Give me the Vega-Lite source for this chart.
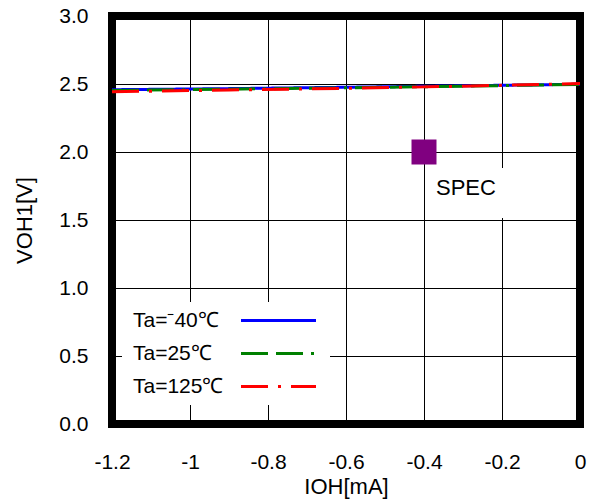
{
  "$schema": "https://vega.github.io/schema/vega-lite/v6.json",
  "width": 468,
  "height": 408,
  "autosize": {"type": "none"},
  "padding": {"left": 112, "top": 16, "right": 12, "bottom": 80},
  "background": "white",
  "config": {
    "view": {"stroke": "black", "strokeWidth": 8},
    "font": "Liberation Sans",
    "axis": {
      "grid": true,
      "gridColor": "#000000",
      "gridWidth": 1,
      "gridOpacity": 1,
      "domain": false,
      "ticks": false,
      "labelFlush": false,
      "labelFont": "Liberation Sans",
      "labelFontSize": 21,
      "labelColor": "#000000",
      "titleFont": "Liberation Sans",
      "titleFontSize": 22,
      "titleFontWeight": "normal",
      "titleColor": "#000000"
    },
    "legend": {
      "title": null,
      "orient": "none",
      "fillColor": "white",
      "padding": 8,
      "symbolType": "M-5,0H5",
      "symbolSize": 225,
      "symbolStrokeWidth": 3,
      "labelFont": "Liberation Sans",
      "labelFontSize": 21,
      "labelColor": "#000000",
      "labelOffset": -156,
      "symbolOffset": 138,
      "rowPadding": 11
    }
  },
  "datasets": {
    "curves": [
      {"ioh": -1.2, "voh": 2.458, "series": "Ta=⁻40℃"},
      {"ioh": -0.9, "voh": 2.466, "series": "Ta=⁻40℃"},
      {"ioh": -0.6, "voh": 2.476, "series": "Ta=⁻40℃"},
      {"ioh": -0.3, "voh": 2.487, "series": "Ta=⁻40℃"},
      {"ioh": 0.0, "voh": 2.498, "series": "Ta=⁻40℃"},
      {"ioh": -1.2, "voh": 2.452, "series": "Ta=25℃"},
      {"ioh": -0.9, "voh": 2.462, "series": "Ta=25℃"},
      {"ioh": -0.6, "voh": 2.472, "series": "Ta=25℃"},
      {"ioh": -0.3, "voh": 2.484, "series": "Ta=25℃"},
      {"ioh": 0.0, "voh": 2.497, "series": "Ta=25℃"},
      {"ioh": -1.2, "voh": 2.443, "series": "Ta=125℃"},
      {"ioh": -0.9, "voh": 2.456, "series": "Ta=125℃"},
      {"ioh": -0.6, "voh": 2.468, "series": "Ta=125℃"},
      {"ioh": -0.3, "voh": 2.484, "series": "Ta=125℃"},
      {"ioh": 0.0, "voh": 2.503, "series": "Ta=125℃"}
    ],
    "spec": [
      {"ioh": -0.4, "voh": 2.0, "label": "SPEC"}
    ]
  },
  "layer": [
    {
      "data": {"name": "spec"},
      "mark": {"type": "rect", "fill": "white", "xOffset": 5, "x2Offset": 88, "yOffset": 16, "y2Offset": 66},
      "encoding": {
        "x": {"field": "ioh", "type": "quantitative", "scale": {"domain": [-1.2, 0], "nice": false, "zero": false}},
        "x2": {"field": "ioh"},
        "y": {"field": "voh", "type": "quantitative", "scale": {"domain": [0, 3], "nice": false}},
        "y2": {"field": "voh"}
      }
    },
    {
      "data": {"name": "curves"},
      "mark": {"type": "line", "strokeWidth": 3, "clip": true},
      "encoding": {
        "x": {
          "field": "ioh", "type": "quantitative",
          "scale": {"domain": [-1.2, 0], "nice": false, "zero": false},
          "axis": {
            "title": "IOH[mA]",
            "values": [-1.2, -1, -0.8, -0.6, -0.4, -0.2, 0],
            "labelExpr": "datum.value == 0 ? '0' : (datum.value < 0 ? '-' : '') + format(abs(datum.value), '~g')",
            "labelPadding": 27,
            "titlePadding": 4
          }
        },
        "y": {
          "field": "voh", "type": "quantitative",
          "scale": {"domain": [0, 3], "nice": false},
          "axis": {
            "title": "VOH1[V]",
            "values": [0, 0.5, 1, 1.5, 2, 2.5, 3],
            "format": ".1f",
            "labelPadding": 24,
            "titlePadding": 22
          }
        },
        "color": {
          "field": "series", "type": "nominal",
          "scale": {"domain": ["Ta=⁻40℃", "Ta=25℃", "Ta=125℃"], "range": ["#0000ff", "#008000", "#ff0000"]},
          "legend": {"legendX": 10, "legendY": 286}
        },
        "strokeDash": {
          "field": "series", "type": "nominal",
          "scale": {"domain": ["Ta=⁻40℃", "Ta=25℃", "Ta=125℃"], "range": [[1, 0], [27, 8, 27, 8, 3, 8], [27, 10, 3, 10]]},
          "legend": {"legendX": 10, "legendY": 286}
        }
      }
    },
    {
      "data": {"name": "spec"},
      "mark": {"type": "square", "size": 625, "color": "#800080", "opacity": 1, "filled": true},
      "encoding": {
        "x": {"field": "ioh", "type": "quantitative"},
        "y": {"field": "voh", "type": "quantitative"}
      }
    },
    {
      "data": {"name": "spec"},
      "mark": {"type": "text", "align": "left", "baseline": "middle", "dx": 12, "dy": 36, "fontSize": 22, "font": "Liberation Sans", "color": "#000000"},
      "encoding": {
        "x": {"field": "ioh", "type": "quantitative"},
        "y": {"field": "voh", "type": "quantitative"},
        "text": {"field": "label"}
      }
    }
  ]
}
